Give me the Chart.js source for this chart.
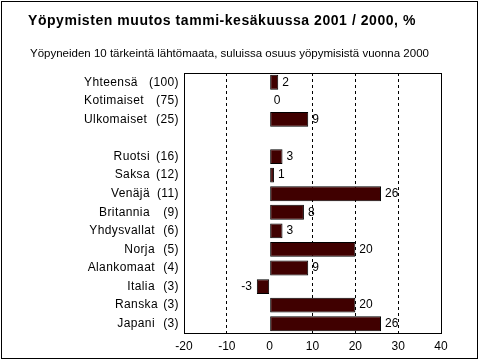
<!DOCTYPE html>
<html>
<head>
<meta charset="utf-8">
<script src="https://cdn.jsdelivr.net/npm/chart.js@4/dist/chart.umd.min.js"></script>
<style>
  html, body { margin: 0; padding: 0; background: #fff; }
  #wrap { width: 479px; height: 360px; position: relative; }
</style>
</head>
<body>
<div id="wrap"><canvas id="chart"></canvas></div>
<script>
const titleText = 'Yöpymisten muutos tammi-kesäkuussa 2001 / 2000, %';
const subtitleText = 'Yöpyneiden 10 tärkeintä lähtömaata, suluissa osuus yöpymisistä vuonna 2000';

// nimet, osuudet ja muutos-%
const maat = ['Yhteensä', 'Kotimaiset', 'Ulkomaiset', '', 'Ruotsi', 'Saksa', 'Venäjä', 'Britannia',
  'Yhdysvallat', 'Norja', 'Alankomaat', 'Italia', 'Ranska', 'Japani'];
const osuudet = [100, 75, 25, null, 16, 12, 11, 9, 6, 5, 4, 3, 3, 3];
const muutos = [2, 0, 9, null, 3, 1, 26, 8, 3, 20, 9, -3, 20, 26];
const xTicks = [-20, -10, 0, 10, 20, 30, 40];

const font = 'Liberation Sans, Arial, Helvetica, sans-serif';
const canvas = document.getElementById('chart');

const piirto = {
  id: 'piirto',
  afterDraw(chart) {
    const ctx = chart.ctx;
    const area = chart.chartArea;
    const y = chart.scales.y;
    ctx.save();
    // otsikot
    ctx.fillStyle = '#000';
    ctx.textBaseline = 'middle';
    ctx.textAlign = 'left';
    ctx.letterSpacing = '0.55px';
    ctx.font = 'bold 14px ' + font;
    ctx.fillText(titleText, 28, 21);
    ctx.letterSpacing = '0px';
    ctx.font = '11.5px ' + font;
    ctx.fillText(subtitleText, 30, 54);

    // rivien nimet
    ctx.font = '12px ' + font;
    ctx.letterSpacing = '0.4px';
    maat.forEach((nimi, i) => {
      if (!nimi) return;
      const py = y.getPixelForValue(i);
      if (i < 3) {
        ctx.textAlign = 'left';
        ctx.fillText(nimi, 84, py);
      } else {
        ctx.textAlign = 'right';
        ctx.fillText(nimi, i === 12 ? 158 : (i < 8 ? 150 : 155), py);
      }
      ctx.textAlign = 'right';
      ctx.fillText('(' + osuudet[i] + ')', 179, py);
    });

    // arvot palkkien päähän
    ctx.letterSpacing = '0px';
    const meta = chart.getDatasetMeta(0);
    meta.data.forEach((bar, i) => {
      const v = muutos[i];
      if (v === null) return;
      if (v < 0) {
        ctx.textAlign = 'right';
        ctx.fillText(String(v), bar.x - 5, bar.y);
      } else {
        ctx.textAlign = 'left';
        ctx.fillText(String(v), bar.x + 4, bar.y);
      }
    });

    // kehykset
    ctx.strokeStyle = '#000';
    ctx.lineWidth = 1;
    ctx.strokeRect(area.left + 0.5, area.top + 0.5, area.right - area.left, area.bottom - area.top);
    ctx.strokeRect(1.5, 1.5, 476, 357);
    ctx.restore();
  }
};

new Chart(canvas, {
  type: 'bar',
  data: {
    labels: maat,
    datasets: [{
      data: muutos,
      backgroundColor: '#400000',
      borderColor: '#000',
      borderWidth: 1,
      borderSkipped: false,
      categoryPercentage: 1,
      barPercentage: 0.8
    }]
  },
  options: {
    indexAxis: 'y',
    responsive: true,
    maintainAspectRatio: false,
    animation: false,
    layout: { padding: { left: 184, right: 38, top: 73, bottom: 0 } },
    plugins: { legend: { display: false }, tooltip: { enabled: false } },
    scales: {
      x: {
        min: -20,
        max: 40,
        afterBuildTicks(scale) { scale.ticks = xTicks.map(v => ({ value: v })); },
        afterFit(scale) { scale.height = 27; },
        grid: {
          drawTicks: false,
          color: ctx => (ctx.tick && [-10, 10, 20, 30].includes(ctx.tick.value)) ? '#000' : 'rgba(0,0,0,0)',
          lineWidth: 1
        },
        border: { display: false, dash: [3, 3] },
        ticks: { color: '#000', padding: 6, font: { family: font, size: 12 } }
      },
      y: {
        grid: { display: false },
        border: { display: false },
        ticks: { display: false },
        afterFit(scale) { scale.width = 0; }
      }
    }
  },
  plugins: [piirto]
});
</script>
</body>
</html>
